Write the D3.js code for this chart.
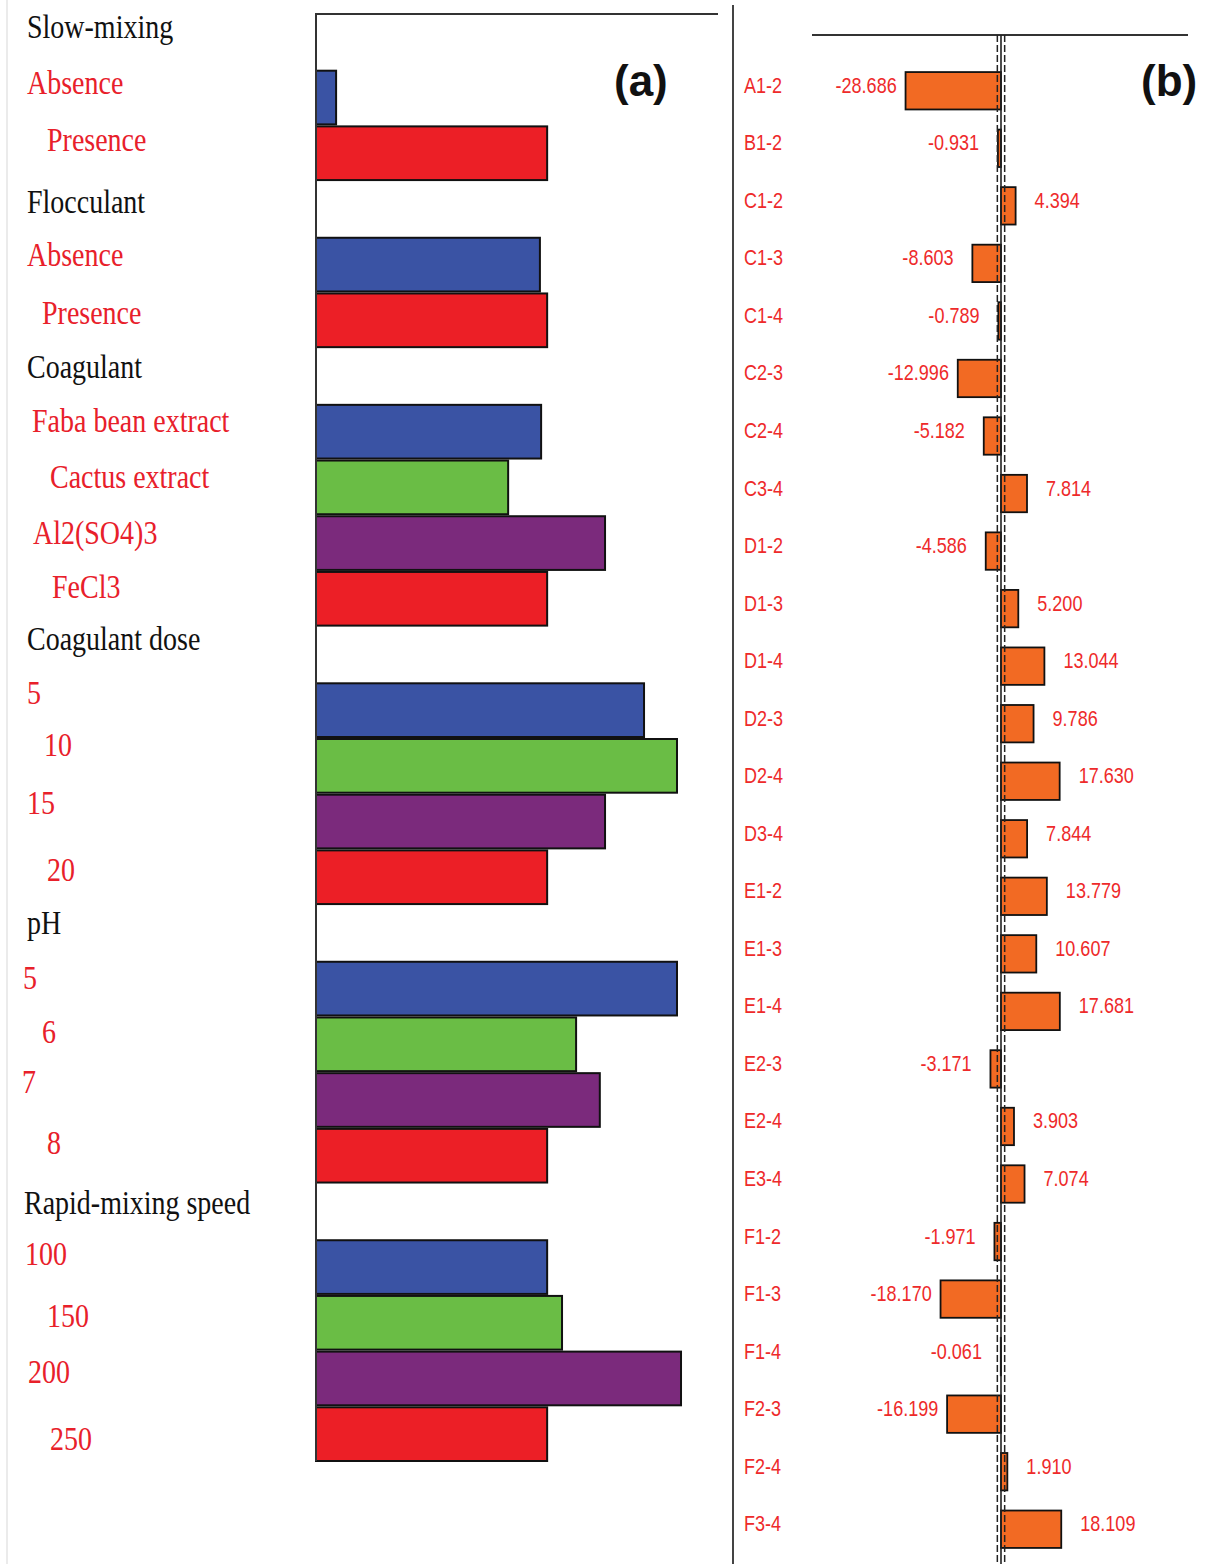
<!DOCTYPE html>
<html>
<head>
<meta charset="utf-8">
<script src="https://cdn.jsdelivr.net/npm/d3@7"></script>
<style>
  html, body { margin: 0; padding: 0; background: #fff; }
  svg { display: block; }
</style>
</head>
<body>
<svg id="chart" width="1206" height="1564"></svg>
<script>
// ---- Panel (a): mean response for each factor level ----
const factors = ["Slow-mixing", "Flocculant", "Coagulant", "Coagulant dose", "pH", "Rapid-mixing speed"];
const slowMixingLevels = ["Absence", "Presence"];
const slowMixingValues = [5.0, 57.5];
const flocculantLevels = ["Absence", "Presence"];
const flocculantValues = [55.7, 57.5];
const coagulantLevels = ["Faba bean extract", "Cactus extract", "Al2(SO4)3", "FeCl3"];
const coagulantValues = [56.0, 47.8, 71.9, 57.5];
const doseLevels = ["5", "10", "15", "20"];
const doseValues = [81.6, 89.8, 71.9, 57.5];
const phLevels = ["5", "6", "7", "8"];
const phValues = [89.8, 64.7, 70.6, 57.5];
const rapidLevels = ["100", "150", "200", "250"];
const rapidValues = [57.5, 61.2, 90.8, 57.5];

// ---- Panel (b): pairwise level differences ----
const pairs = ["A1-2","B1-2","C1-2","C1-3","C1-4","C2-3","C2-4","C3-4","D1-2","D1-3","D1-4","D2-3","D2-4","D3-4",
               "E1-2","E1-3","E1-4","E2-3","E2-4","E3-4","F1-2","F1-3","F1-4","F2-3","F2-4","F3-4"];
const differences = [-28.686,-0.931,4.394,-8.603,-0.789,-12.996,-5.182,7.814,-4.586,5.200,13.044,9.786,17.630,7.844,
                     13.779,10.607,17.681,-3.171,3.903,7.074,-1.971,-18.170,-0.061,-16.199,1.910,18.109];
const limit = 1.1;

// ---- layout of the left-hand labels: indent and vertical nudge per row ----
const labelIndent = [27, 27,47, 27, 27,42, 27, 32,50,33,52, 27, 27,44,27,47, 27, 23,42,22,47, 24, 25,47,28,50];
const labelNudge  = [-15, -15,-13, -7, -10,-7, -9, -11,-10,-10,-12, -15, -17,-21,-19,-7, -10, -11,-12,-18,-13, -8, -13,-7,-6,5];

const levelSets = [
  [slowMixingLevels, slowMixingValues],
  [flocculantLevels, flocculantValues],
  [coagulantLevels, coagulantValues],
  [doseLevels, doseValues],
  [phLevels, phValues],
  [rapidLevels, rapidValues]
];

const COL = { blue: "#3a53a4", green: "#6abd45", purple: "#7b2a7c", red: "#ec1f26", orange: "#f26a23" };

// Rows: one header row per factor followed by one row per level
const rows = [];
factors.forEach((f, fi) => {
  rows.push({ key: "h" + fi, text: f, header: true });
  const [lv, vals] = levelSets[fi];
  lv.forEach((l, li) => {
    const color = li === lv.length - 1 ? COL.red : [COL.blue, COL.green, COL.purple][li];
    rows.push({ key: fi + "-" + li, text: l, header: false, value: vals[li], color });
  });
});

const svg = d3.select("#chart");

// faint left margin rule
svg.append("line").attr("x1", 7).attr("x2", 7).attr("y1", 0).attr("y2", 1564)
  .attr("stroke", "#e4e4e4").attr("stroke-width", 1.5);

// ---------------- Panel (a) ----------------
const ya = d3.scaleBand().domain(rows.map(r => r.key)).range([14, 1462]).paddingInner(0).paddingOuter(0);
const xa = d3.scaleLinear().domain([0, 100]).range([316, 718]);

const gA = svg.append("g");

gA.selectAll("rect.bar").data(rows.filter(r => !r.header)).join("rect")
  .attr("class", "bar")
  .attr("x", xa(0))
  .attr("y", d => ya(d.key) + 1)
  .attr("width", d => xa(d.value) - xa(0))
  .attr("height", ya.bandwidth() - 2)
  .attr("fill", d => d.color)
  .attr("stroke", "#111")
  .attr("stroke-width", 2);

gA.append("line").attr("x1", xa(0)).attr("x2", xa(100)).attr("y1", 14).attr("y2", 14)
  .attr("stroke", "#333").attr("stroke-width", 2);
gA.append("line").attr("x1", xa(0)).attr("x2", xa(0)).attr("y1", 13).attr("y2", 1461)
  .attr("stroke", "#333").attr("stroke-width", 2);

gA.selectAll("text.lab").data(rows).join("text")
  .attr("class", "lab")
  .attr("transform", (d, i) => {
    const cy = ya(d.key) + ya.bandwidth() / 2 + labelNudge[i] + 11;
    return `translate(${labelIndent[i]},${cy}) scale(1,1.18)`;
  })
  .attr("font-family", "'Liberation Serif', 'Times New Roman', serif")
  .attr("font-size", 28)
  .attr("fill", d => d.header ? "#111" : "#e8202a")
  .text(d => d.text);

gA.append("text").attr("x", 614).attr("y", 96)
  .attr("font-family", "'Liberation Sans', Arial, sans-serif").attr("font-weight", "bold")
  .attr("font-size", 44).attr("fill", "#111").text("(a)");

// separator between panels
svg.append("line").attr("x1", 733).attr("x2", 733).attr("y1", 5).attr("y2", 1564)
  .attr("stroke", "#444").attr("stroke-width", 2);

// ---------------- Panel (b) ----------------
const yb = d3.scaleBand().domain(pairs).range([62, 1558]).paddingInner(0).paddingOuter(0);
const xb = d3.scaleLinear().domain([-56.8, 56.2]).range([812, 1188]);
const barH = yb.bandwidth() * 0.65;
const gB = svg.append("g");

gB.append("line").attr("x1", xb.range()[0]).attr("x2", xb.range()[1]).attr("y1", 35).attr("y2", 35)
  .attr("stroke", "#333").attr("stroke-width", 2);

const rowsB = pairs.map((p, i) => ({ pair: p, value: differences[i] }));

gB.selectAll("rect.diff").data(rowsB).join("rect")
  .attr("class", "diff")
  .attr("x", d => xb(Math.min(0, d.value)))
  .attr("y", d => yb(d.pair) + yb.bandwidth() / 2 - barH / 2)
  .attr("width", d => Math.abs(xb(d.value) - xb(0)))
  .attr("height", barH)
  .attr("fill", COL.orange)
  .attr("stroke", "#111")
  .attr("stroke-width", 1.8);

// zero line and decision limits
gB.append("line").attr("x1", xb(0)).attr("x2", xb(0)).attr("y1", 35).attr("y2", 1564)
  .attr("stroke", "#222").attr("stroke-width", 1.6);
[-limit, limit].forEach(v => {
  gB.append("line").attr("x1", xb(v)).attr("x2", xb(v)).attr("y1", 35).attr("y2", 1564)
    .attr("stroke", "#222").attr("stroke-width", 1.5).attr("stroke-dasharray", "7,3");
});

// condensed sans labels (regular face squeezed horizontally)
const sansB = "'Liberation Sans', Arial, sans-serif";
const squeeze = 0.82;
const rowBase = d => yb(d.pair) + yb.bandwidth() / 2 + 2;

gB.selectAll("text.pair").data(rowsB).join("text")
  .attr("class", "pair")
  .attr("transform", d => `translate(744,${rowBase(d)}) scale(${squeeze},1)`)
  .attr("font-family", sansB).attr("font-size", 22)
  .attr("fill", "#ee2a2a")
  .text(d => d.pair);

gB.selectAll("text.val").data(rowsB).join("text")
  .attr("class", "val")
  .attr("transform", d => {
    const x = d.value < 0 ? xb(d.value) - 70 : xb(d.value) + 19;
    return `translate(${x},${rowBase(d)}) scale(${squeeze},1)`;
  })
  .attr("font-family", sansB).attr("font-size", 22)
  .attr("fill", "#ee2a2a")
  .text(d => d.value.toFixed(3));

gB.append("text").attr("x", 1141).attr("y", 96)
  .attr("font-family", sansB).attr("font-weight", "bold")
  .attr("font-size", 44).attr("fill", "#111").text("(b)");
</script>
</body>
</html>
